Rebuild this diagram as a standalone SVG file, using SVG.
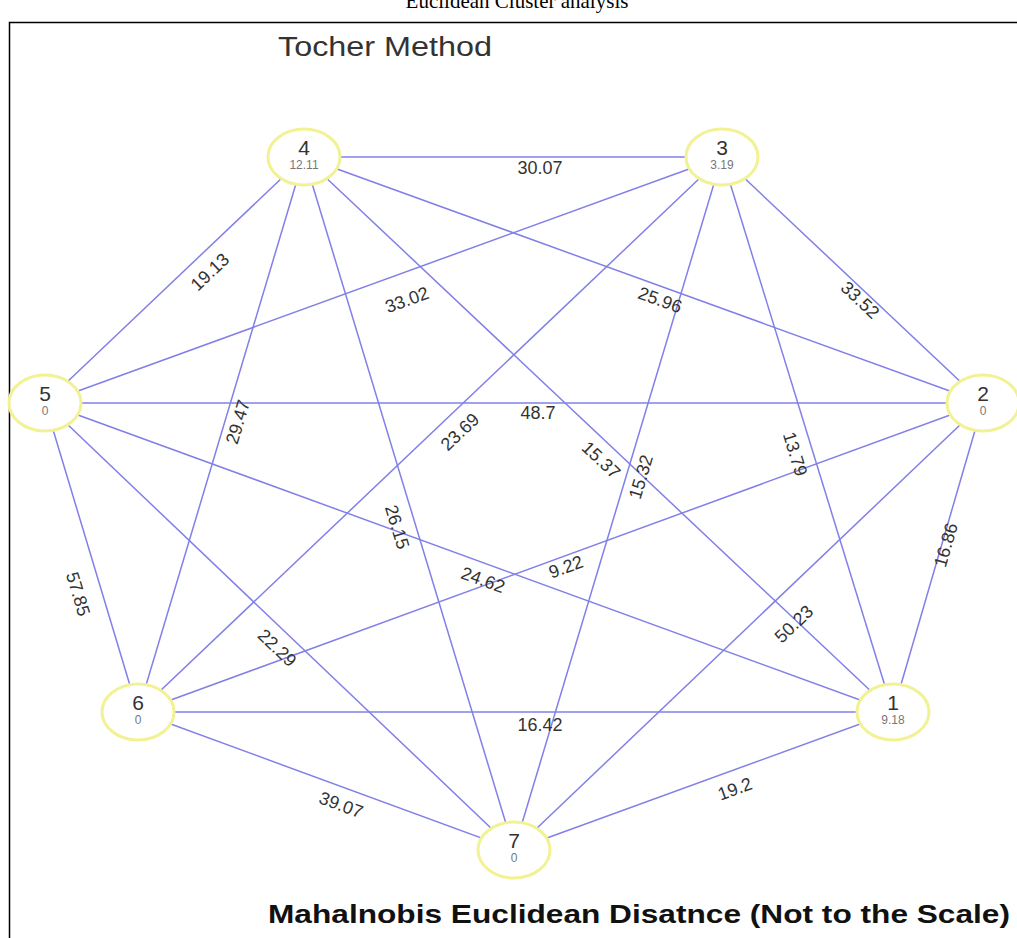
<svg xmlns="http://www.w3.org/2000/svg" width="1017" height="938" viewBox="0 0 1017 938">
<style>
.e{stroke:#8080e8;stroke-width:1.5;fill:none}
.n{fill:#fff;stroke:#f2f294;stroke-width:3}
.id{font-family:"Liberation Sans",Arial,sans-serif;font-size:21px;fill:#333;text-anchor:middle}
.v{font-family:"Liberation Sans",Arial,sans-serif;font-size:12px;fill:#777;text-anchor:middle}
.l{font-family:"Liberation Sans",Arial,sans-serif;font-size:18px;fill:#333;text-anchor:middle;dominant-baseline:central}
</style>
<rect width="1017" height="938" fill="#fff"/>
<text x="517" y="8" font-family="Liberation Serif,serif" font-size="21" text-anchor="middle" fill="#000">Euclidean Cluster analysis</text>
<path d="M9.5 938 V22.5 H1017" fill="none" stroke="#000" stroke-width="1.5"/>
<text x="278" y="56" font-family="Liberation Sans,Arial,sans-serif" font-size="27" fill="#333" textLength="214" lengthAdjust="spacingAndGlyphs">Tocher Method</text>
<g id="connectors">
<line class="e" x1="304" y1="157" x2="722" y2="157"/>
<line class="e" x1="304" y1="157" x2="45" y2="403"/>
<line class="e" x1="304" y1="157" x2="138" y2="712"/>
<line class="e" x1="304" y1="157" x2="514" y2="850"/>
<line class="e" x1="304" y1="157" x2="893" y2="712"/>
<line class="e" x1="304" y1="157" x2="983" y2="403"/>
<line class="e" x1="722" y1="157" x2="45" y2="403"/>
<line class="e" x1="722" y1="157" x2="138" y2="712"/>
<line class="e" x1="722" y1="157" x2="514" y2="850"/>
<line class="e" x1="722" y1="157" x2="893" y2="712"/>
<line class="e" x1="722" y1="157" x2="983" y2="403"/>
<line class="e" x1="45" y1="403" x2="983" y2="403"/>
<line class="e" x1="45" y1="403" x2="893" y2="712"/>
<line class="e" x1="45" y1="403" x2="138" y2="712"/>
<line class="e" x1="45" y1="403" x2="514" y2="850"/>
<line class="e" x1="138" y1="712" x2="893" y2="712"/>
<line class="e" x1="138" y1="712" x2="514" y2="850"/>
<line class="e" x1="138" y1="712" x2="983" y2="403"/>
<line class="e" x1="514" y1="850" x2="893" y2="712"/>
<line class="e" x1="514" y1="850" x2="983" y2="403"/>
<line class="e" x1="893" y1="712" x2="983" y2="403"/>
<text class="l" x="540" y="168">30.07</text>
<text class="l" x="210" y="272" transform="rotate(-43.6 210 272)">19.13</text>
<text class="l" x="238" y="422" transform="rotate(-73.4 238 422)">29.47</text>
<text class="l" x="397" y="527" transform="rotate(73 397 527)">26.15</text>
<text class="l" x="601" y="460" transform="rotate(43.2 601 460)">15.37</text>
<text class="l" x="660" y="300" transform="rotate(19.9 660 300)">25.96</text>
<text class="l" x="407" y="300" transform="rotate(-20 407 300)">33.02</text>
<text class="l" x="460" y="432" transform="rotate(-43.5 460 432)">23.69</text>
<text class="l" x="641" y="477" transform="rotate(-73.3 641 477)">15.32</text>
<text class="l" x="795" y="454" transform="rotate(72.9 795 454)">13.79</text>
<text class="l" x="860" y="300" transform="rotate(43.3 860 300)">33.52</text>
<text class="l" x="538" y="413">48.7</text>
<text class="l" x="483" y="580" transform="rotate(20 483 580)">24.62</text>
<text class="l" x="78" y="594" transform="rotate(73.3 78 594)">57.85</text>
<text class="l" x="277" y="648" transform="rotate(43.6 277 648)">22.29</text>
<text class="l" x="540" y="725">16.42</text>
<text class="l" x="341" y="805" transform="rotate(20.2 341 805)">39.07</text>
<text class="l" x="566" y="567" transform="rotate(-20 566 567)">9.22</text>
<text class="l" x="735" y="789" transform="rotate(-20 735 789)">19.2</text>
<text class="l" x="794" y="624" transform="rotate(-43.6 794 624)">50.23</text>
<text class="l" x="946" y="545" transform="rotate(-73.8 946 545)">16.86</text>
</g>
<g id="node1"><ellipse class="n" cx="893" cy="712" rx="36" ry="28"/><text class="id" x="893" y="710">1</text><text class="v" x="893" y="724">9.18</text></g>
<g id="node2"><ellipse class="n" cx="983" cy="403" rx="36" ry="28"/><text class="id" x="983" y="401">2</text><text class="v" x="983" y="415">0</text></g>
<g id="node3"><ellipse class="n" cx="722" cy="157" rx="36" ry="28"/><text class="id" x="722" y="155">3</text><text class="v" x="722" y="169">3.19</text></g>
<g id="node4"><ellipse class="n" cx="304" cy="157" rx="36" ry="28"/><text class="id" x="304" y="155">4</text><text class="v" x="304" y="169">12.11</text></g>
<g id="node5"><ellipse class="n" cx="45" cy="403" rx="36" ry="28"/><text class="id" x="45" y="401">5</text><text class="v" x="45" y="415">0</text></g>
<g id="node6"><ellipse class="n" cx="138" cy="712" rx="36" ry="28"/><text class="id" x="138" y="710">6</text><text class="v" x="138" y="724">0</text></g>
<g id="node7"><ellipse class="n" cx="514" cy="850" rx="36" ry="28"/><text class="id" x="514" y="848">7</text><text class="v" x="514" y="862">0</text></g>
<text x="268" y="923" font-family="Liberation Sans,Arial,sans-serif" font-size="25" font-weight="bold" fill="#111" textLength="742" lengthAdjust="spacingAndGlyphs">Mahalnobis Euclidean Disatnce (Not to the Scale)</text>
</svg>
